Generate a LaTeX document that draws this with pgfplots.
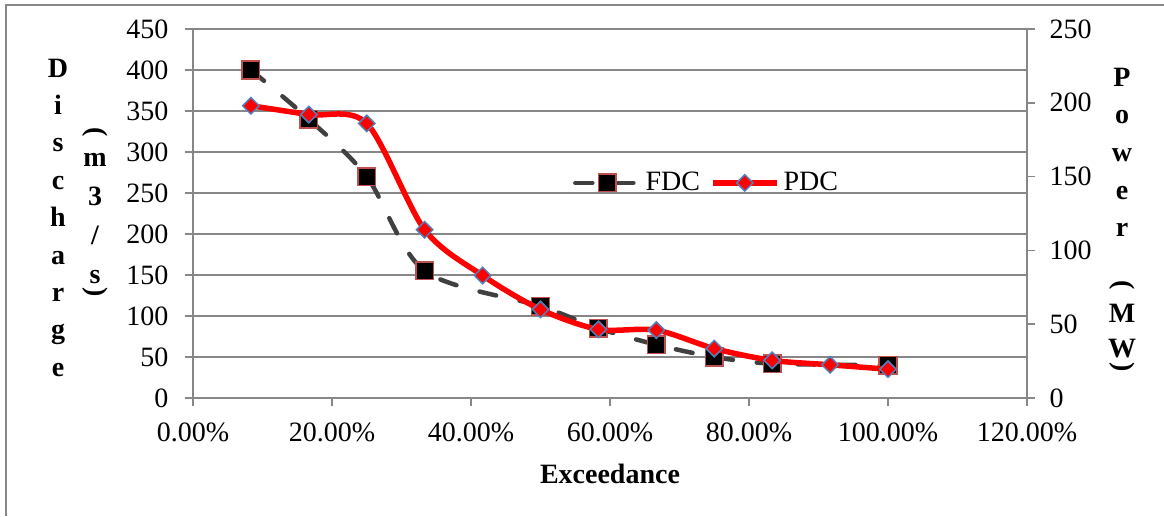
\documentclass[border=0pt]{standalone}
\usepackage{fontspec}
\setmainfont{Liberation Serif}
\usepackage{pgfplots}
\pgfplotsset{compat=1.18}
\definecolor{axgray}{HTML}{878787}
\definecolor{fdcline}{HTML}{404040}
\definecolor{fdcedge}{HTML}{C0504D}
\definecolor{pdcedge}{HTML}{4F81BD}
\newcommand{\ff}{\fontsize{14}{16.8}\selectfont}
\begin{document}
\begin{tikzpicture}
\useasboundingbox (0,0) rectangle (582pt,258pt);
\draw[axgray, line width=0.75pt] (3pt,0pt) -- (3pt,255.5pt) -- (582pt,255.5pt);
\pgfplotsset{
  common/.style={at={(96.5pt,59pt)}, anchor=south west, scale only axis,
    width=417pt, height=184.5pt, xmin=0, xmax=1.2,
    tick align=outside, major tick length=4pt,
    tick style={axgray, line width=0.75pt},
    axis line style={axgray, line width=0.75pt, -},
    x axis line style={-}, y axis line style={-},
    ticklabel style={font=\ff},
    /pgf/number format/assume math mode=true},
  fdc/.style={fdcline, line width=2.25pt, dash pattern=on 8.5pt off 12pt, line cap=round,
    smooth, mark=square*, mark size=4.4pt,
    mark options={solid, fill=black, draw=fdcedge, line width=0.75pt}},
  pdc/.style={red, line width=2.75pt, smooth, mark=square*, mark size=2.9pt,
    mark options={solid, rotate=45, fill=red, draw=pdcedge, line width=0.75pt}},
}
\begin{axis}[common, ymin=0, ymax=450,
  axis x line*=bottom, axis y line*=left,
  xtick={0,0.2,0.4,0.6,0.8,1,1.2},
  xticklabels={0.00\%,20.00\%,40.00\%,60.00\%,80.00\%,100.00\%,120.00\%},
  xticklabel style={yshift=-4.8pt},
  ytick={0,50,...,450}, yticklabel style={xshift=-4.8pt},
  ymajorgrids, grid style={axgray, line width=0.75pt}]
\addplot[fdc] coordinates {(0.0833,400) (0.1667,340) (0.25,270) (0.3333,155) (0.5,112) (0.5833,85) (0.6667,65) (0.75,50) (0.8333,42) (1.0,40)};
\end{axis}
\begin{axis}[common, ymin=0, ymax=250,
  axis y line*=right, axis x line=none,
  ytick={0,50,...,250}, yticklabel style={xshift=3.8pt},
  legend columns=2,
  legend style={at={(0.617,0.583)}, anchor=center, draw=none, fill=none, font=\ff,
    /tikz/every even column/.append style={column sep=3pt}},
  legend image code/.code={\draw[mark repeat=2,mark phase=2,#1] plot coordinates {(0pt,0pt) (16pt,0pt) (32pt,0pt)};}]
\addlegendimage{fdc}
\addlegendentry{FDC}
\addplot[pdc] coordinates {(0.0833,198) (0.1667,192) (0.25,186) (0.3333,114) (0.4167,83) (0.5,60) (0.5833,46.5) (0.6667,46) (0.75,33.5) (0.8333,25.5) (0.9167,22.5) (1.0,19.5)};
\addlegendentry{PDC}
\end{axis}
\node[font=\ff\bfseries, anchor=base] at (305pt,16.5pt) {Exceedance};
\foreach \t [count=\i from 0] in {D,i,s,c,h,a,r,g,e}
  \node[font=\ff\bfseries, anchor=base, inner sep=0pt] at (29pt,{(219.5-18.7*\i)*1pt}) {\t};
\foreach \t [count=\i from 0] in {m,3,/,s}
  \node[font=\ff\bfseries, anchor=base, inner sep=0pt] at (47.5pt,{(174.75-19.5*\i)*1pt}) {\t};
\node[font=\ff\bfseries, inner sep=0pt, rotate=-90] at (47.5pt,192pt) {(};
\node[font=\ff\bfseries, inner sep=0pt, rotate=-90] at (47.5pt,112pt) {)};
\foreach \t [count=\i from 0] in {P,o,w,e,r}
  \node[font=\ff\bfseries, anchor=base, inner sep=0pt] at (561pt,{(214.85-18.8*\i)*1pt}) {\t};
\node[font=\ff\bfseries, inner sep=0pt, rotate=-90] at (561pt,115.5pt) {(};
\node[font=\ff\bfseries, anchor=base, inner sep=0pt] at (561pt,97pt) {M};
\node[font=\ff\bfseries, anchor=base, inner sep=0pt] at (561pt,79.5pt) {W};
\node[font=\ff\bfseries, inner sep=0pt, rotate=-90] at (561pt,74.5pt) {)};
\end{tikzpicture}
\end{document}
